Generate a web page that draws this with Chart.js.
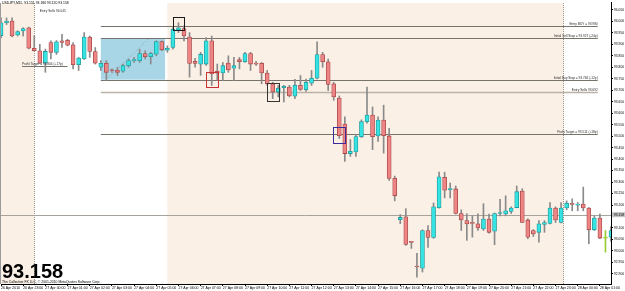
<!DOCTYPE html>
<html lang="en">
<head>
    <meta charset="UTF-8">
    <title>USDJPY M15</title>
    <style>
        body { margin: 0; padding: 0; background: #fff; }
        #chart { display: block; }
    </style>
</head>
<body>
    <canvas id="chart" width="625" height="291"></canvas>

    <script src="https://cdn.jsdelivr.net/npm/chart.js"></script>
    <script>
        // 15 minute candles, 26 Apr 22:00 -> 28 Apr 01:30
        const openPrices = [
            93.938, 93.994, 94.001, 93.941, 93.958, 93.972, 93.883, 93.872, 93.818, 93.908,
            93.865, 93.915, 93.918, 93.898, 93.811, 93.836, 93.932, 93.868, 93.800, 93.817,
            93.787, 93.788, 93.783, 93.807, 93.829, 93.829, 93.860, 93.846, 93.857, 93.912,
            93.874, 93.886, 93.962, 93.969, 93.932, 93.826, 93.813, 93.814, 93.915, 93.783,
            93.775, 93.818, 93.796, 93.833, 93.824, 93.860, 93.818, 93.817, 93.775, 93.728,
            93.692, 93.711, 93.714, 93.674, 93.721, 93.702, 93.731, 93.752, 93.855, 93.824,
            93.728, 93.666, 93.553, 93.424, 93.431, 93.498, 93.563, 93.592, 93.501, 93.570,
            93.501, 93.316, 93.136, 93.149, 93.038, 92.931, 92.925, 93.089, 93.059, 93.188,
            93.321, 93.267, 93.270, 93.163, 93.132, 93.121, 93.118, 93.096, 93.139, 93.086,
            93.163, 93.161, 93.172, 93.189, 93.261, 93.135, 93.089, 93.081, 93.115, 93.120,
            93.187, 93.124, 93.187, 93.204, 93.199, 93.204, 93.187, 93.092, 93.143, 93.056,
            93.060
        ];
        const highPrices = [
            94.015, 94.015, 94.015, 93.959, 93.972, 93.975, 93.938, 93.900, 93.879, 93.915,
            93.916, 93.943, 93.922, 93.908, 93.843, 93.951, 93.936, 93.886, 93.829, 93.829,
            93.793, 93.800, 93.814, 93.836, 93.843, 93.879, 93.872, 93.865, 93.915, 93.915,
            93.893, 93.972, 93.994, 93.980, 93.951, 93.839, 93.865, 93.929, 93.936, 93.814,
            93.821, 93.850, 93.843, 93.843, 93.865, 93.865, 93.826, 93.821, 93.786, 93.735,
            93.721, 93.721, 93.721, 93.747, 93.764, 93.749, 93.786, 93.911, 93.865, 93.836,
            93.735, 93.675, 93.584, 93.485, 93.507, 93.571, 93.714, 93.627, 93.584, 93.635,
            93.534, 93.326, 93.158, 93.184, 93.041, 92.990, 93.092, 93.110, 93.209, 93.343,
            93.343, 93.296, 93.283, 93.179, 93.162, 93.153, 93.162, 93.206, 93.161, 93.165,
            93.225, 93.240, 93.192, 93.283, 93.271, 93.140, 93.093, 93.132, 93.132, 93.211,
            93.192, 93.211, 93.218, 93.227, 93.211, 93.278, 93.189, 93.153, 93.161, 93.089,
            93.106
        ];
        const lowPrices = [
            93.929, 93.986, 93.932, 93.936, 93.936, 93.880, 93.870, 93.816, 93.778, 93.836,
            93.856, 93.886, 93.893, 93.793, 93.786, 93.834, 93.843, 93.814, 93.786, 93.743,
            93.778, 93.764, 93.778, 93.800, 93.821, 93.821, 93.836, 93.814, 93.850, 93.872,
            93.865, 93.879, 93.951, 93.915, 93.757, 93.800, 93.765, 93.808, 93.721, 93.743,
            93.743, 93.778, 93.743, 93.793, 93.821, 93.786, 93.808, 93.728, 93.721, 93.663,
            93.671, 93.649, 93.671, 93.663, 93.699, 93.695, 93.721, 93.749, 93.800, 93.699,
            93.656, 93.490, 93.390, 93.412, 93.412, 93.494, 93.556, 93.441, 93.477, 93.426,
            93.307, 93.218, 93.119, 93.024, 93.011, 92.886, 92.908, 93.015, 93.055, 93.186,
            93.231, 93.231, 93.161, 93.089, 93.046, 93.060, 93.089, 93.089, 93.077, 93.027,
            93.153, 93.153, 93.163, 93.188, 93.123, 93.053, 93.063, 93.038, 93.081, 93.118,
            93.124, 93.122, 93.179, 93.175, 93.175, 93.175, 93.031, 93.089, 93.053, 92.995,
            93.041
        ];
        const closePrices = [
            93.994, 94.001, 93.936, 93.955, 93.969, 93.883, 93.872, 93.818, 93.869, 93.865,
            93.911, 93.908, 93.896, 93.811, 93.840, 93.932, 93.869, 93.818, 93.817, 93.778,
            93.785, 93.778, 93.807, 93.829, 93.830, 93.860, 93.846, 93.860, 93.912, 93.876,
            93.883, 93.965, 93.972, 93.936, 93.817, 93.817, 93.856, 93.915, 93.771, 93.774,
            93.807, 93.788, 93.807, 93.824, 93.860, 93.814, 93.814, 93.775, 93.728, 93.692,
            93.709, 93.717, 93.675, 93.721, 93.704, 93.735, 93.752, 93.855, 93.824, 93.725,
            93.671, 93.502, 93.424, 93.434, 93.498, 93.563, 93.592, 93.498, 93.570, 93.502,
            93.316, 93.240, 93.146, 93.028, 93.037, 92.930, 93.089, 93.059, 93.192, 93.323,
            93.265, 93.268, 93.163, 93.135, 93.118, 93.120, 93.100, 93.139, 93.081, 93.163,
            93.164, 93.175, 93.187, 93.258, 93.124, 93.060, 93.074, 93.118, 93.124, 93.187,
            93.135, 93.187, 93.208, 93.203, 93.204, 93.187, 93.092, 93.143, 93.056, 93.056,
            93.089
        ];

        const tickLabels = [
            '26 Apr 2010', '26 Apr 23:00',
            '27 Apr 00:00', '27 Apr 01:00', '27 Apr 02:00', '27 Apr 03:00', '27 Apr 04:00', '27 Apr 05:00',
            '27 Apr 06:00', '27 Apr 07:00', '27 Apr 08:00', '27 Apr 09:00', '27 Apr 10:00', '27 Apr 11:00',
            '27 Apr 12:00', '27 Apr 13:00', '27 Apr 14:00', '27 Apr 15:00', '27 Apr 16:00', '27 Apr 17:00',
            '27 Apr 18:00', '27 Apr 19:00', '27 Apr 20:00', '27 Apr 21:00', '27 Apr 22:00', '27 Apr 23:00',
            '28 Apr 00:00', '28 Apr 01:00'
        ];

        // trade levels drawn as horizontal lines with their labels
        const levelPrices = [93.980, 93.927, 93.746, 93.692, 93.511];
        const levelLabels = [
            'Entry BUY = 93.980',
            'Initial Sell Stop = 93.927 (-24p)',
            'Initial Buy Stop = 93.746 (-12p)',
            'Entry Sells 93.692',
            'Profit Target = 93.511 (+18p)'
        ];
        const levelStart = 18;
        const levelEnd = 107.6;

        // sessions (candle index ranges) and their separators
        const sessionZones = [[-1, 6], [30, 101.4]];
        const sessionMarks = [6, 101.4];
        const entryZone = [18, 29.6, 93.746, 93.927];
        const entryDiagonal = [19, 93.746, 26.7, 93.927];
        // marker boxes: candle index, low, high
        const markerIndex = [32, 38, 49, 61];
        const markerLow = [93.962, 93.714, 93.653, 93.472];
        const markerHigh = [94.017, 93.778, 93.731, 93.541];

        const currentPrice = 93.158;
        const yMin = 92.856;
        const yMax = 94.080;

        // candle time stamps
        const candleTimes = openPrices.map((_, i) => {
            const t = new Date(Date.UTC(2010, 3, 26, 22, 0) + i * 15 * 60000);
            return t.getUTCDate() + ' Apr ' + String(t.getUTCHours()).padStart(2, '0') + ':' + String(t.getUTCMinutes()).padStart(2, '0');
        });

        const BULL = '#36e3e3', BULL_EDGE = '#1f9a9a';
        const BEAR = '#ee8484', BEAR_EDGE = '#a54646';
        const WICK = '#8a8a8a';
        const FLAT = '#9acd32';
        const markerColors = ['#1a1a1a', '#c83232', '#333333', '#3a2c9c'];

        function bodyColor(i, edge) {
            if (openPrices[i] === closePrices[i]) return FLAT;
            if (closePrices[i] > openPrices[i]) return edge ? BULL_EDGE : BULL;
            return edge ? BEAR_EDGE : BEAR;
        }

        const overlay = {
            id: 'overlay',
            beforeDraw(chart) {
                const { ctx, chartArea: a, scales: { x, y } } = chart;
                ctx.save();
                ctx.fillStyle = '#fff';
                ctx.fillRect(0, 0, chart.width, chart.height);

                ctx.fillStyle = '#faf0e6';
                sessionZones.forEach(([s, e]) => {
                    const x1 = Math.max(0, x.getPixelForValue(s));
                    const x2 = Math.min(a.right, x.getPixelForValue(e));
                    ctx.fillRect(x1, a.top, x2 - x1, a.bottom - a.top);
                });

                ctx.strokeStyle = '#9a9088';
                ctx.lineWidth = 1;
                ctx.setLineDash([1, 1]);
                sessionMarks.forEach(v => {
                    const px = Math.round(x.getPixelForValue(v)) + 0.5;
                    ctx.beginPath();
                    ctx.moveTo(px, a.top);
                    ctx.lineTo(px, a.bottom);
                    ctx.stroke();
                });
                ctx.setLineDash([]);

                // entry zone
                const [zs, ze, zl, zh] = entryZone;
                ctx.fillStyle = '#a9d6e6';
                ctx.fillRect(x.getPixelForValue(zs), y.getPixelForValue(zh),
                    x.getPixelForValue(ze) - x.getPixelForValue(zs), y.getPixelForValue(zl) - y.getPixelForValue(zh));

                ctx.strokeStyle = '#8c9aa4';
                ctx.setLineDash([1, 2]);
                ctx.beginPath();
                ctx.moveTo(x.getPixelForValue(entryDiagonal[0]), y.getPixelForValue(entryDiagonal[1]));
                ctx.lineTo(x.getPixelForValue(entryDiagonal[2]), y.getPixelForValue(entryDiagonal[3]));
                ctx.stroke();
                ctx.setLineDash([]);

                // current price line
                const cp = Math.round(y.getPixelForValue(currentPrice)) + 0.5;
                ctx.strokeStyle = '#a8a29c';
                ctx.beginPath();
                ctx.moveTo(0, cp);
                ctx.lineTo(a.right, cp);
                ctx.stroke();

                // level lines
                levelPrices.forEach((p, i) => {
                    const py = Math.round(y.getPixelForValue(p)) + 0.5;
                    ctx.strokeStyle = i === 3 ? '#bcb2a8' : '#77726a';
                    ctx.lineWidth = i === 3 ? 1.5 : 1;
                    ctx.beginPath();
                    ctx.moveTo(x.getPixelForValue(levelStart), py);
                    ctx.lineTo(x.getPixelForValue(levelEnd), py);
                    ctx.stroke();
                });

                // left profit target segment
                const lt = Math.round(y.getPixelForValue(93.804)) + 0.5;
                ctx.strokeStyle = '#77726a';
                ctx.lineWidth = 1;
                ctx.beginPath();
                ctx.moveTo(x.getPixelForValue(3.8), lt);
                ctx.lineTo(x.getPixelForValue(12), lt);
                ctx.stroke();
                ctx.restore();
            },
            afterDatasetsDraw(chart) {
                const { ctx, scales: { x, y } } = chart;
                ctx.save();
                ctx.lineWidth = 1;
                markerIndex.forEach((m, i) => {
                    const x1 = Math.round(x.getPixelForValue(m - 1.05)) + 0.5;
                    const x2 = Math.round(x.getPixelForValue(m + 1.05)) + 0.5;
                    const y1 = Math.round(y.getPixelForValue(markerHigh[i])) + 0.5;
                    const y2 = Math.round(y.getPixelForValue(markerLow[i])) + 0.5;
                    ctx.strokeStyle = markerColors[i];
                    ctx.strokeRect(x1, y1, x2 - x1, y2 - y1);
                });
                ctx.restore();
            },
            afterDraw(chart) {
                const { ctx, chartArea: a, scales: { x, y } } = chart;
                ctx.save();
                ctx.fillStyle = '#2a2a2a';
                ctx.font = '3.2px Arial';
                ctx.textAlign = 'right';
                ctx.textBaseline = 'alphabetic';
                const labelX = x.getPixelForValue(levelEnd);
                levelPrices.forEach((p, i) => {
                    ctx.fillText(levelLabels[i], labelX, y.getPixelForValue(p) - 1);
                });

                ctx.textAlign = 'left';
                ctx.fillText('Profit Target = 93.804 (+17p)', x.getPixelForValue(3.8), y.getPixelForValue(93.804) - 1);
                ctx.fillText('Entry Sells 94.045', x.getPixelForValue(7), y.getPixelForValue(94.040));
                ctx.fillStyle = '#000';
                ctx.font = '3.4px Arial';
                ctx.fillText('USDJPY,M15  93.151 93.186 93.120 93.158', 2, 4);

                // bid label on the price axis
                const cp = y.getPixelForValue(currentPrice);
                ctx.fillStyle = '#c4c4c4';
                ctx.fillRect(a.right + 1, cp - 2.5, chart.width - a.right - 1, 5);
                ctx.fillStyle = '#000';
                ctx.font = '3.3px Arial';
                ctx.textBaseline = 'middle';
                ctx.fillText(currentPrice.toFixed(3), a.right + 3, cp);

                ctx.textBaseline = 'alphabetic';
                ctx.font = 'bold 20px Arial';
                ctx.fillText(currentPrice.toFixed(3), 2, 278);
                ctx.font = '3.4px Arial';
                ctx.fillText('The Collective FX LLC, \u00a9 2001-2010 MetaQuotes Software Corp.', 2, 283);

                ctx.strokeStyle = '#9a9a9a';
                ctx.beginPath();
                ctx.moveTo(0.5, a.top);
                ctx.lineTo(0.5, a.bottom);
                ctx.stroke();
                ctx.restore();
            }
        };

        new Chart(document.getElementById('chart'), {
            type: 'bar',
            data: {
                labels: candleTimes,
                datasets: [
                    {
                        label: 'body',
                        data: openPrices.map((o, i) => [o, closePrices[i]]),
                        backgroundColor: ctx => bodyColor(ctx.dataIndex, false),
                        borderColor: ctx => bodyColor(ctx.dataIndex, true),
                        borderWidth: 0.8,
                        borderSkipped: false,
                        barThickness: 4,
                        minBarLength: 1,
                        grouped: false
                    },
                    {
                        label: 'wick',
                        data: lowPrices.map((l, i) => [l, highPrices[i]]),
                        backgroundColor: ctx => openPrices[ctx.dataIndex] === closePrices[ctx.dataIndex] ? FLAT : WICK,
                        borderWidth: 0,
                        barThickness: 1,
                        grouped: false
                    }
                ]
            },
            options: {
                responsive: false,
                animation: false,
                devicePixelRatio: 1,
                layout: { padding: { left: 1, top: 0, right: 0, bottom: 0 } },
                plugins: {
                    legend: { display: false },
                    tooltip: { enabled: false }
                },
                scales: {
                    x: {
                        type: 'category',
                        offset: false,
                        grid: { drawOnChartArea: false, tickLength: 2, color: '#000', offset: false },
                        border: { color: '#000' },
                        ticks: {
                            autoSkip: false,
                            maxRotation: 0,
                            minRotation: 0,
                            align: 'start',
                            padding: 0,
                            color: '#000',
                            font: { family: 'Arial', size: 3.5 },
                            callback: value => tickLabels[value / 4]
                        },
                        afterBuildTicks: scale => {
                            scale.ticks = scale.ticks.filter(t => t.value % 4 === 0);
                        },
                        afterFit: scale => { scale.height = 7; }
                    },
                    y: {
                        type: 'linear',
                        position: 'right',
                        min: yMin,
                        max: yMax,
                        grid: { drawOnChartArea: false, tickLength: 2, color: '#000' },
                        border: { color: '#000' },
                        ticks: {
                            stepSize: 0.05,
                            includeBounds: false,
                            padding: 1,
                            color: '#000',
                            font: { family: 'Arial', size: 3.3 },
                            callback: v => v.toFixed(3)
                        },
                        afterFit: scale => { scale.width = 14; }
                    }
                }
            },
            plugins: [overlay]
        });
    </script>
</body>
</html>
